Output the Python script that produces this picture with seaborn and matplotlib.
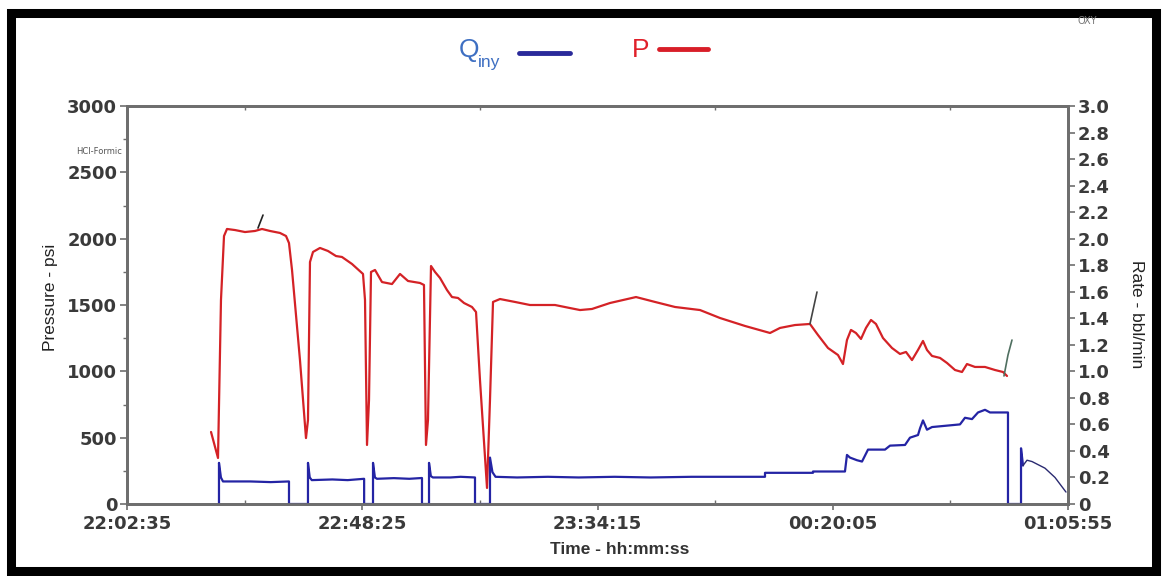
import matplotlib
matplotlib.use("Agg")
import matplotlib.pyplot as plt
import seaborn as sns
import pandas as pd
from matplotlib.patches import Rectangle
from matplotlib.lines import Line2D

# ---------------- data (time = minutes elapsed since 22:02:35) ----------------
x_tick_labels = ["22:02:35", "22:48:25", "23:34:15", "00:20:05", "01:05:55"]

p_time = [16.37, 17.73, 18.31, 18.90, 19.48, 21.04, 22.99, 24.94, 26.30, 27.86, 29.81,
          30.98, 31.56, 32.15, 33.70, 34.87, 35.26, 35.65, 36.24, 37.60, 39.16, 40.72,
          41.88, 43.84, 45.98, 46.37, 46.76, 47.15, 47.54, 48.32, 49.68, 51.63, 53.19,
          54.75, 57.08, 57.86, 58.25, 58.64, 59.23, 60.01, 60.98, 62.34, 63.32, 64.49,
          65.66, 67.21, 68.00, 68.77, 70.14, 70.72, 71.31, 72.67, 75.59, 78.51, 83.38,
          86.31, 88.26, 90.59, 94.10, 99.17, 102.87, 106.77, 111.64, 115.53, 120.40,
          125.28, 127.22, 130.14, 133.06, 134.62, 136.57, 138.52, 139.49, 140.27, 141.05,
          142.02, 143.00, 143.97, 144.95, 145.92, 147.29, 149.04, 150.60, 151.77, 152.94,
          154.11, 155.08, 155.86, 156.84, 158.40, 159.76, 161.32, 162.68, 163.65, 165.21,
          167.16, 169.11, 170.67, 171.45]
p_psi = [543, 347, 1538, 2020, 2073, 2065, 2050, 2058, 2073, 2058, 2043,
         2020, 1967, 1764, 1085, 497, 633, 1824, 1900, 1930, 1907, 1869,
         1862, 1809, 1734, 1538, 445, 784, 1749, 1764, 1673, 1658, 1734,
         1681, 1666, 1651, 445, 633, 1794, 1749, 1704, 1613, 1560, 1553,
         1515, 1485, 1447, 935, 121, 784, 1523, 1545, 1523, 1500, 1500,
         1477, 1462, 1470, 1515, 1560, 1523, 1485, 1462, 1402, 1342,
         1289, 1327, 1349, 1357, 1274, 1176, 1123, 1055, 1236, 1312,
         1289, 1244, 1327, 1387, 1357, 1251, 1176, 1131, 1146, 1085,
         1161, 1229, 1161, 1116, 1101, 1063, 1010, 995, 1055, 1033,
         1033, 1010, 995, 965]

q_time = [17.92, 17.92, 18.30, 18.70, 24.00, 28.00, 31.56, 31.56,
          35.26, 35.26, 35.60, 36.00, 40.00, 43.00, 46.20, 46.20,
          47.93, 47.93, 48.30, 48.70, 52.00, 55.00, 57.47, 57.47,
          58.84, 58.84, 59.20, 59.60, 63.00, 65.00, 67.80, 67.80,
          70.72, 70.72, 71.20, 71.80, 76.00, 82.00, 88.00, 95.00, 102.00, 110.00,
          118.00, 124.30, 124.30, 133.65, 133.65, 139.88, 140.27, 140.85, 142.22,
          143.20, 144.37, 147.68, 148.66, 151.58, 152.55, 154.11, 154.50, 155.08,
          155.86, 156.84, 162.29, 163.26, 164.63, 165.80, 167.16, 168.14, 171.64,
          171.64, 174.18, 174.18, 174.57]
q_rate = [0.0, 0.31, 0.20, 0.17, 0.17, 0.165, 0.17, 0.0,
          0.0, 0.31, 0.20, 0.18, 0.185, 0.18, 0.19, 0.0,
          0.0, 0.31, 0.20, 0.19, 0.195, 0.19, 0.196, 0.0,
          0.0, 0.31, 0.21, 0.20, 0.20, 0.205, 0.20, 0.0,
          0.0, 0.35, 0.24, 0.205, 0.20, 0.205, 0.20, 0.205, 0.20, 0.205,
          0.205, 0.205, 0.235, 0.235, 0.245, 0.245, 0.37, 0.35, 0.33,
          0.32, 0.41, 0.41, 0.44, 0.445, 0.50, 0.52, 0.57, 0.63,
          0.56, 0.58, 0.60, 0.65, 0.64, 0.69, 0.71, 0.69, 0.69,
          0.0, 0.0, 0.42, 0.29]

tail_time = [174.57, 175.35, 176.32, 178.85, 180.80, 182.94]
tail_rate = [0.29, 0.33, 0.32, 0.27, 0.20, 0.09]

mark_a_time = [25.52, 26.50]
mark_a_psi = [2080, 2178]
mark_b_time = [133.06, 134.43]
mark_b_psi = [1357, 1598]
mark_c_time = [170.86, 171.64, 172.42]
mark_c_psi = [965, 1123, 1236]

# ---------------- style ----------------
sns.set_style("white")
plt.rcParams["font.family"] = ["DejaVu Sans"]

RED = "#d42226"
BLUE = "#2424a4"
GRAY = "#6e6e6e"
TICKC = "#3a3a3a"


def hms_to_min(s, start="22:02:35"):
    def sec(v):
        h, m, ss = map(int, v.split(":"))
        return h * 3600 + m * 60 + ss
    d = (sec(s) - sec(start)) % 86400
    return d / 60.0


x_ticks = [hms_to_min(s) for s in x_tick_labels]
x_minor = [(a + b) / 2 for a, b in zip(x_ticks[:-1], x_ticks[1:])]

fig = plt.figure(figsize=(11.65, 5.76), dpi=100)
W, H = 1165, 576
ax = fig.add_axes([127 / W, 72 / H, 941 / W, 398 / H])
ax2 = ax.twinx()

df_p = pd.DataFrame({"t": p_time, "P": p_psi})
df_q = pd.DataFrame({"t": q_time, "Q": q_rate})
df_tail = pd.DataFrame({"t": tail_time, "Q": tail_rate})

sns.lineplot(data=df_p, x="t", y="P", ax=ax, sort=False, estimator=None,
             color=RED, lw=1.6)
for tt, pp, col in [(mark_a_time, mark_a_psi, "#222222"),
                    (mark_b_time, mark_b_psi, "#444444"),
                    (mark_c_time, mark_c_psi, "#4f6f60")]:
    sns.lineplot(x=tt, y=pp, ax=ax, sort=False, estimator=None, color=col, lw=1.2)

sns.lineplot(data=df_q, x="t", y="Q", ax=ax2, sort=False, estimator=None,
             color=BLUE, lw=1.6)
sns.lineplot(data=df_tail, x="t", y="Q", ax=ax2, sort=False, estimator=None,
             color="#2a2a70", lw=1.0)

# axes limits / ticks
ax.set_xlim(x_ticks[0], x_ticks[-1])
ax.set_ylim(0, 3000)
ax2.set_ylim(0, 3.0)

left_ticks = list(range(0, 3001, 500))
ax.set_yticks(left_ticks)
ax.set_yticklabels([str(v) for v in left_ticks])
ax.set_yticks(list(range(250, 3000, 500)), minor=True)

right_ticks = [i / 5 for i in range(0, 16)]
ax2.set_yticks(right_ticks)
ax2.set_yticklabels(["0" if v == 0 else f"{v:.1f}" for v in right_ticks])

ax.set_xticks(x_ticks)
ax.set_xticklabels(x_tick_labels)
ax.set_xticks(x_minor, minor=True)

for a in (ax, ax2):
    for s in a.spines.values():
        s.set_color(GRAY)
        s.set_linewidth(2)
        s.set_visible(True)

tick_font = dict(fontsize=13, fontweight="bold", color=TICKC)
for lab in ax.get_yticklabels() + ax.get_xticklabels() + ax2.get_yticklabels():
    lab.set_fontsize(13)
    lab.set_fontweight("bold")
    lab.set_color(TICKC)

ax.tick_params(axis="y", which="major", direction="out", length=5, width=1.2,
               color=GRAY, pad=2, left=True)
ax.tick_params(axis="y", which="minor", direction="out", length=3, width=1,
               color=GRAY, left=True)
ax.tick_params(axis="x", which="major", direction="out", length=4, width=1.2,
               color=GRAY, pad=4, bottom=True)
ax.tick_params(axis="x", which="minor", direction="in", length=3, width=1,
               color=GRAY, bottom=True, top=True)
ax2.tick_params(axis="y", which="major", direction="out", length=5, width=1.2,
                color=GRAY, pad=2, right=True)

ax.grid(False)
ax2.grid(False)

# axis labels
ax.set_xlabel("Time - hh:mm:ss", fontsize=12.5, fontweight="bold", color="#333333",
              family="Liberation Sans")
ax.xaxis.set_label_coords((620 - 127) / 941, -(542 - 504) / 398)
ax.set_ylabel("Pressure - psi", fontsize=12.5, color="#222222", family="Liberation Sans",
              va="center")
ax.yaxis.set_label_coords((51 - 127) / 941, (504 - 297) / 398)
ax2.set_ylabel("Rate - bbl/min", fontsize=12.5, color="#222222", family="Liberation Sans",
               rotation=270, va="center")
ax2.yaxis.set_label_coords(1 + (1137 - 1068) / 941, (504 - 314) / 398)


def fx(px):
    return px / W


def fy(py):
    return 1 - py / H


# legend (custom, as in the reference)
fig.text(fx(459), fy(50), "Q", fontsize=19, color="#3e6fc2", ha="left", va="center",
         family="Liberation Sans")
fig.text(fx(478), fy(62), "iny", fontsize=12.5, color="#3e6fc2", ha="left", va="center",
         family="Liberation Sans")
fig.add_artist(Line2D([fx(519), fx(570)], [fy(53), fy(53)], color="#2a2a9a", lw=3.5,
                      transform=fig.transFigure))
fig.text(fx(632), fy(50), "P", fontsize=19, color="#e0202a", ha="left", va="center",
         family="Liberation Sans")
fig.add_artist(Line2D([fx(659), fx(708)], [fy(49), fy(49)], color="#d81e28", lw=3.5,
                      transform=fig.transFigure))

# small annotations
fig.text(fx(122), fy(152), "HCl-Formic", fontsize=6, color="#555555", ha="right",
         va="center")
fig.text(fx(1087), fy(21), "OXY", fontsize=7, color="#777777", ha="center", va="center")

# outer black frame
fig.add_artist(Rectangle((fx(10.5), fy(570.5)), fx(1155.5) - fx(10.5), fy(12.5) - fy(570.5),
                         transform=fig.transFigure, fill=False, edgecolor="black",
                         lw=6.5))

fig.savefig("out.png", dpi=100, facecolor="white")
